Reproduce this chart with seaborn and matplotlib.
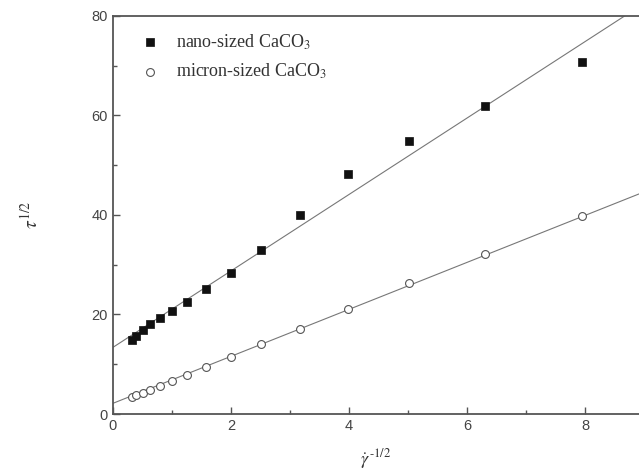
import numpy as np
import pandas as pd
import seaborn as sns
import matplotlib.pyplot as plt
from matplotlib.ticker import MultipleLocator

# shear-rate axis values, gamma_dot^-1/2
x_vals = [0.316, 0.398, 0.501, 0.631, 0.794, 1.0, 1.259, 1.585, 1.995,
          2.512, 3.162, 3.981, 5.012, 6.310, 7.943]

nano_y = [14.9, 15.7, 16.9, 18.0, 19.2, 20.8, 22.6, 25.1, 28.4,
          33.0, 40.0, 48.2, 54.9, 61.9, 70.8]
micron_y = [3.5, 3.8, 4.2, 4.8, 5.7, 6.7, 7.9, 9.5, 11.5,
            14.0, 17.1, 21.1, 26.3, 32.2, 39.8]

# fitted lines: intercept, slope
nano_fit = [13.4, 7.68]
micron_fit = [2.15, 4.72]

labels = ['nano-sized CaCO$_3$', 'micron-sized CaCO$_3$']

df = pd.DataFrame({'x': x_vals * 2,
                   'y': nano_y + micron_y,
                   'sample': [labels[0]] * len(x_vals) + [labels[1]] * len(x_vals)})

sns.set_style('white')
plt.rcParams['font.family'] = ['Liberation Sans', 'DejaVu Sans']
plt.rcParams['mathtext.fontset'] = 'stix'

fig = plt.figure(figsize=(6.39, 4.75), dpi=100)
ax = fig.add_axes([0.1768, 0.1284, 0.8232, 0.838])

gray = '#555555'
xlim = (0, 8.915)
xx = np.linspace(xlim[0], xlim[1], 50)
for fit in (nano_fit, micron_fit):
    ax.plot(xx, fit[0] + fit[1] * xx, color='#777777', lw=0.8, zorder=1)

sns.scatterplot(data=df[df['sample'] == labels[0]], x='x', y='y', marker='s',
                s=30, color='#111111', edgecolor='#111111', linewidth=0.5,
                ax=ax, zorder=3, label=labels[0])
sns.scatterplot(data=df[df['sample'] == labels[1]], x='x', y='y', marker='o',
                s=32, facecolor='white', edgecolor='#555555', linewidth=0.8,
                ax=ax, zorder=3, label=labels[1])

ax.set_xlim(*xlim)
ax.set_ylim(0, 80)
ax.xaxis.set_major_locator(MultipleLocator(2))
ax.xaxis.set_minor_locator(MultipleLocator(1))
ax.yaxis.set_major_locator(MultipleLocator(20))
ax.yaxis.set_minor_locator(MultipleLocator(10))
ax.tick_params(which='major', direction='in', length=5, width=1, color=gray,
               labelsize=10.5, labelcolor='#444444', bottom=True, left=True)
ax.tick_params(which='minor', direction='in', length=3, width=1, color=gray,
               bottom=True, left=True)

for side in ['left', 'bottom', 'top']:
    ax.spines[side].set_color(gray)
    ax.spines[side].set_linewidth(1.3)
ax.spines['right'].set_visible(False)

ax.set_xlabel(r'$\dot{\gamma}^{\,\text{-1/2}}$', fontsize=13, color='#333333',
              labelpad=10)
ax.set_ylabel(r'$\tau^{1/2}$', fontsize=14, color='#333333', labelpad=36)

leg = ax.legend(loc='upper left', frameon=False,
                prop={'family': 'Liberation Serif', 'size': 13},
                handletextpad=0.7, borderaxespad=0.5, labelspacing=0.55,
                handlelength=1.5, bbox_to_anchor=(0.013, 1.0))
for t in leg.get_texts():
    t.set_color('#333333')

fig.savefig('out.png', dpi=100)
